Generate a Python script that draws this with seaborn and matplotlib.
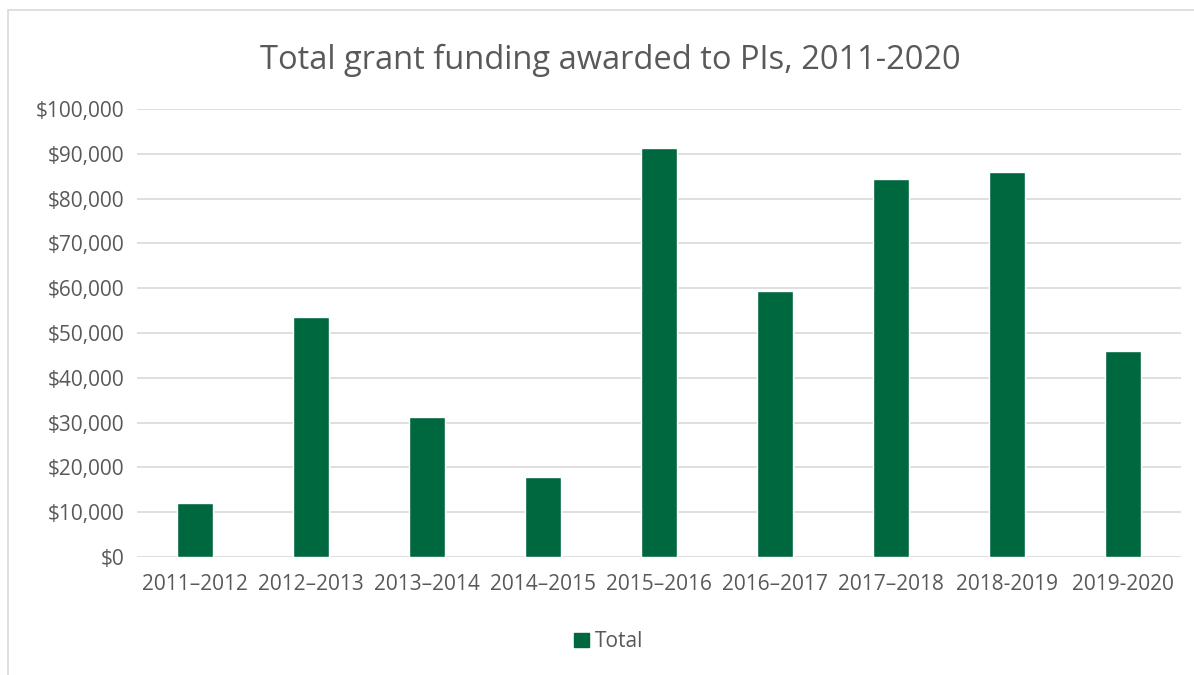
import seaborn as sns
import matplotlib.pyplot as plt
import matplotlib.patches as mpatches
import matplotlib.ticker as mticker
import pandas as pd

years = ['2011–2012', '2012–2013', '2013–2014', '2014–2015', '2015–2016',
         '2016–2017', '2017–2018', '2018-2019', '2019-2020']
totals = [12000, 53600, 31200, 17800, 91200, 59300, 84300, 86000, 46000]

df = pd.DataFrame({'Year': years, 'Total': totals})

sns.set_style('white')
plt.rcParams['font.family'] = ['Open Sans', 'DejaVu Sans']

text_col = '#595959'
bar_col = '#00683F'

fig = plt.figure(figsize=(11.94, 6.75), dpi=100)
ax = fig.add_axes([0.1147, 0.1748, 0.8742, 0.6637])

sns.barplot(data=df, x='Year', y='Total', color=bar_col, width=0.31,
            saturation=1, ax=ax, label='Total', zorder=3)

ax.set_ylim(0, 100000)
ax.yaxis.set_major_locator(mticker.MultipleLocator(10000))
ax.yaxis.set_major_formatter(mticker.FuncFormatter(lambda v, p: f'${v:,.0f}'))
ax.grid(axis='y', color='#d9d9d9', linewidth=1.2, zorder=0)
ax.set_axisbelow(True)
for s in ax.spines.values():
    s.set_visible(False)
ax.set_xlabel('')
ax.set_ylabel('')
ax.tick_params(axis='both', length=0, labelsize=15, colors=text_col, pad=9)
ax.tick_params(axis='x', pad=12)
if ax.get_legend() is not None:
    ax.get_legend().remove()

fig.suptitle('Total grant funding awarded to PIs, 2011-2020', x=0.511, y=0.935,
             fontsize=23.5, color=text_col)

handle = mpatches.Patch(color=bar_col, label='Total')
leg = fig.legend(handles=[handle], loc='center', bbox_to_anchor=(0.51, 0.049),
                 frameon=False, fontsize=15, handlelength=0.7, handleheight=0.7,
                 handletextpad=0.3)
for t in leg.get_texts():
    t.set_color(text_col)

fig.patches.append(mpatches.Rectangle((8 / 1194, -0.1), 1.1, 1.1 - 10 / 675,
                                      transform=fig.transFigure, fill=False,
                                      edgecolor='#d9d9d9', linewidth=1.2))

fig.savefig('out.png', dpi=100)
